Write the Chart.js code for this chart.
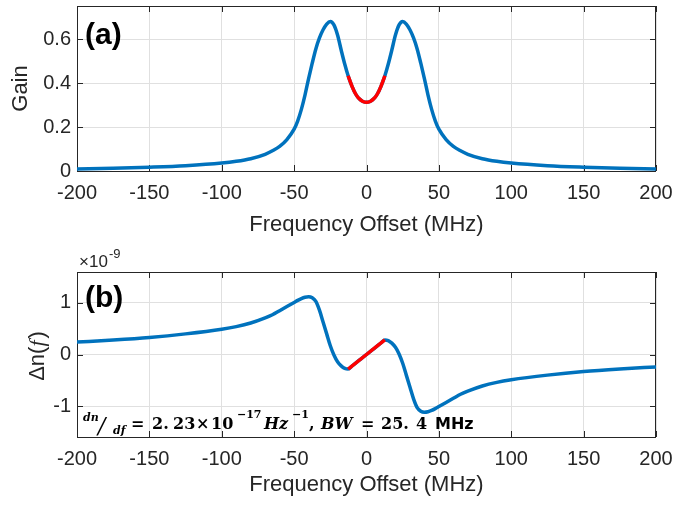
<!DOCTYPE html>
<html>
<head>
<meta charset="utf-8">
<script src="https://cdn.jsdelivr.net/npm/chart.js@4.4.1/dist/chart.umd.min.js"></script>
<style>
  html, body { margin: 0; padding: 0; background: #fff; }
  #wrap { position: relative; width: 676px; height: 506px; overflow: hidden; }
  #wrap canvas { position: absolute; left: 0; }
  #gainChart { top: 0; }
  #dnChart { top: 240px; }
</style>
</head>
<body>
<div id="wrap">
  <canvas id="gainChart" width="676" height="250"></canvas>
  <canvas id="dnChart" width="676" height="266"></canvas>
</div>
<script>
// frequency offset in MHz
const freq = [
  -200, -175, -150, -125, -100, -90, -80, -70, -65, -60, -55, -50, -47.5, -45, -42.5, -40,
  -37.5, -35, -32.5, -30, -27.5, -25, -22.5, -20, -17.5, -15, -12.7, -10, -7.5, -5, -2.5, 0,
  2.5, 5, 7.5, 10, 12.7, 15, 17.5, 20, 22.5, 25, 27.5, 30, 32.5, 35, 37.5,
  40, 42.5, 45, 47.5, 50, 55, 60, 65, 70, 80, 90, 100, 125, 150, 175, 200
];

const gain = [
  0.009, 0.012, 0.017, 0.024, 0.036, 0.044, 0.056, 0.076, 0.092, 0.112, 0.143, 0.19, 0.228, 0.28, 0.345, 0.42,
  0.49, 0.555, 0.605, 0.642, 0.668, 0.68, 0.664, 0.618, 0.55, 0.485, 0.433, 0.385, 0.35, 0.328, 0.316, 0.312,
  0.316, 0.328, 0.35, 0.385, 0.433, 0.485, 0.55, 0.618, 0.664, 0.68, 0.668, 0.642, 0.605, 0.555, 0.49,
  0.42, 0.345, 0.28, 0.228, 0.19, 0.143, 0.112, 0.092, 0.076, 0.056, 0.044, 0.036, 0.024, 0.017, 0.012, 0.009
];

// refractive index change, units of 1e-9
const dn = [
  0.24, 0.28, 0.33, 0.40, 0.49, 0.54, 0.61, 0.71, 0.77, 0.85, 0.93, 1.01, 1.05, 1.085, 1.11, 1.12,
  1.10, 1.03, 0.86, 0.63, 0.40, 0.17, -0.01, -0.14, -0.22, -0.27, -0.283, -0.223, -0.167, -0.111, -0.056, 0,
  0.056, 0.111, 0.167, 0.223, 0.283, 0.27, 0.22, 0.14, 0.01, -0.17, -0.40, -0.63, -0.86, -1.03, -1.10,
  -1.12, -1.11, -1.085, -1.05, -1.01, -0.93, -0.85, -0.77, -0.71, -0.61, -0.54, -0.49, -0.40, -0.33, -0.28, -0.24
];

// highlighted slow-light window (BW = 25.4 MHz)
const windowFreq = [-12.7, -10, -7.5, -5, -2.5, 0, 2.5, 5, 7.5, 10, 12.7];
const windowGain = [0.433, 0.385, 0.35, 0.328, 0.316, 0.312, 0.316, 0.328, 0.35, 0.385, 0.433];
const windowDnFreq = [-12.7, 0, 12.7];
const windowDn = [-0.283, 0, 0.283];

const freqTicks = [-200, -150, -100, -50, 0, 50, 100, 150, 200];
const gainTicks = [0, 0.2, 0.4, 0.6];
const dnTicks = [-1, 0, 1];

const BLUE = '#0072BD';
const RED = '#FF0000';
const INK = '#262626';
const GRID = '#e0e0e0';
const SANS = '"Liberation Sans", Arial, sans-serif';
const MATH = '"DejaVu Serif", serif';
const TICK_LEN = 6;

const points = (xs, ys) => xs.map((x, i) => ({ x, y: ys[i] }));

// box around the axes with inward ticks on all four sides
const axesBox = {
  id: 'axesBox',
  beforeDatasetsDraw(chart) {
    const { ctx, chartArea: { left, right, top, bottom } } = chart;
    const { x, y } = chart.scales;
    ctx.save();
    ctx.strokeStyle = INK;
    ctx.lineWidth = 1;
    ctx.beginPath();
    x.ticks.forEach((t) => {
      const px = Math.round(x.getPixelForValue(t.value)) + 0.5;
      ctx.moveTo(px, bottom); ctx.lineTo(px, bottom - TICK_LEN);
      ctx.moveTo(px, top); ctx.lineTo(px, top + TICK_LEN);
    });
    y.ticks.forEach((t) => {
      const py = Math.round(y.getPixelForValue(t.value)) + 0.5;
      ctx.moveTo(left, py); ctx.lineTo(left + TICK_LEN, py);
      ctx.moveTo(right, py); ctx.lineTo(right - TICK_LEN, py);
    });
    ctx.stroke();
    ctx.strokeRect(left + 0.5, top + 0.5, right - left - 1, bottom - top);
    ctx.restore();
  },
};

function drawPieces(ctx, pieces) {
  pieces.forEach(([text, x, y, font, color]) => {
    ctx.font = font;
    ctx.fillStyle = color || '#000';
    ctx.fillText(text, x, y);
  });
}

function xScale(axisHeight, titlePad) {
  return {
    type: 'linear',
    min: -200,
    max: 200,
    afterBuildTicks: (s) => { s.ticks = freqTicks.map((value) => ({ value })); },
    afterFit: (s) => { s.height = axisHeight; s.paddingLeft = 0; s.paddingRight = 0; },
    ticks: {
      font: { family: SANS, size: 20 },
      color: INK,
      padding: 10,
      maxRotation: 0,
      autoSkip: false,
      callback: (v) => String(v),
    },
    grid: { color: GRID, drawTicks: false },
    border: { display: false },
    title: {
      display: true,
      text: 'Frequency Offset (MHz)',
      font: { family: SANS, size: 22 },
      color: INK,
      padding: { top: 0, bottom: titlePad },
    },
  };
}

function yScale(min, max, tickValues, title) {
  return {
    min,
    max,
    afterBuildTicks: (s) => { s.ticks = tickValues.map((value) => ({ value })); },
    afterFit: (s) => { s.width = 77; s.paddingTop = 0; s.paddingBottom = 0; },
    ticks: {
      font: { family: SANS, size: 20 },
      color: INK,
      padding: 6,
      callback: (v) => String(v),
    },
    grid: { color: GRID, drawTicks: false },
    border: { display: false },
    title: title
      ? { display: true, text: title, font: { family: SANS, size: 22 }, color: INK, padding: { top: 8, bottom: 0 } }
      : { display: false },
  };
}

function lineSet(data, color, order) {
  return {
    data,
    borderColor: color,
    borderWidth: 3.5,
    pointRadius: 0,
    cubicInterpolationMode: 'monotone',
    order,
  };
}

const baseOptions = {
  responsive: false,
  animation: false,
  devicePixelRatio: 1,
  plugins: { legend: { display: false }, tooltip: { enabled: false } },
};

// (a) gain spectrum
new Chart(document.getElementById('gainChart'), {
  type: 'line',
  data: {
    datasets: [
      lineSet(points(windowFreq, windowGain), RED, 0),
      lineSet(points(freq, gain), BLUE, 1),
    ],
  },
  options: {
    ...baseOptions,
    layout: { padding: { left: 0, right: 20, top: 6, bottom: 0 } },
    scales: { x: xScale(79, 12), y: yScale(0, 0.75, gainTicks, 'Gain') },
  },
  plugins: [axesBox, {
    id: 'panelA',
    afterDraw(chart) {
      const { ctx } = chart;
      ctx.save();
      drawPieces(ctx, [['(a)', 85, 44, `bold 30px ${SANS}`]]);
      ctx.restore();
    },
  }],
});

// (b) refractive index change
new Chart(document.getElementById('dnChart'), {
  type: 'line',
  data: {
    datasets: [
      lineSet(points(windowDnFreq, windowDn), RED, 0),
      lineSet(points(freq, dn), BLUE, 1),
    ],
  },
  options: {
    ...baseOptions,
    layout: { padding: { left: 0, right: 20, top: 32, bottom: 0 } },
    scales: { x: xScale(69, 8), y: yScale(-1.6, 1.6, dnTicks, null) },
  },
  plugins: [axesBox, {
    id: 'panelB',
    afterDraw(chart) {
      const { ctx } = chart;
      const b = 189; // baseline of the annotation
      const mb = `bold 16px ${MATH}`;
      const mi = `italic bold 16px ${MATH}`;
      const sup = `bold 11px ${MATH}`;
      ctx.save();
      ctx.textBaseline = 'alphabetic';
      drawPieces(ctx, [
        ['(b)', 85, 67, `bold 30px ${SANS}`],
        ['\u00d710', 79, 27, `17px ${SANS}`, INK],
        ['-9', 109, 18, `13px ${SANS}`, INK],
        ['dn', 83, 181, `italic bold 11px ${MATH}`],
        ['/', 98, 193, `italic 22px ${MATH}`],
        ['df', 113, 194, `italic bold 11px ${MATH}`],
        ['=', 131, b, mb],
        ['2.', 152, b, mb],
        ['23', 173, b, mb],
        ['\u00d7', 196, b, mb],
        ['10', 211, b, mb],
        ['\u221217', 237, 178, sup],
        ['Hz', 264, b, mi],
        ['\u22121', 292, 178, sup],
        [',', 309, b, mb],
        ['BW', 321, b, mi],
        ['=', 361, b, mb],
        ['25.', 381, b, mb],
        ['4', 416, b, mb],
        ['MHz', 435, b, `bold 16px "DejaVu Sans", sans-serif`],
      ]);

      // rotated y label: Δn(f)
      ctx.translate(44, 116);
      ctx.rotate(-Math.PI / 2);
      const parts = [
        ['\u0394n(', `22px ${SANS}`],
        ['f', `italic 22px "Liberation Serif", serif`],
        [')', `22px ${SANS}`],
      ];
      let w = 0;
      parts.forEach(([t, f]) => { ctx.font = f; w += ctx.measureText(t).width + (t === 'f' ? 2 : 0); });
      let x = -w / 2;
      ctx.fillStyle = INK;
      parts.forEach(([t, f]) => {
        ctx.font = f;
        ctx.fillText(t, x, 0);
        x += ctx.measureText(t).width + (t === 'f' ? 2 : 0);
      });
      ctx.restore();
    },
  }],
});
</script>
</body>
</html>
